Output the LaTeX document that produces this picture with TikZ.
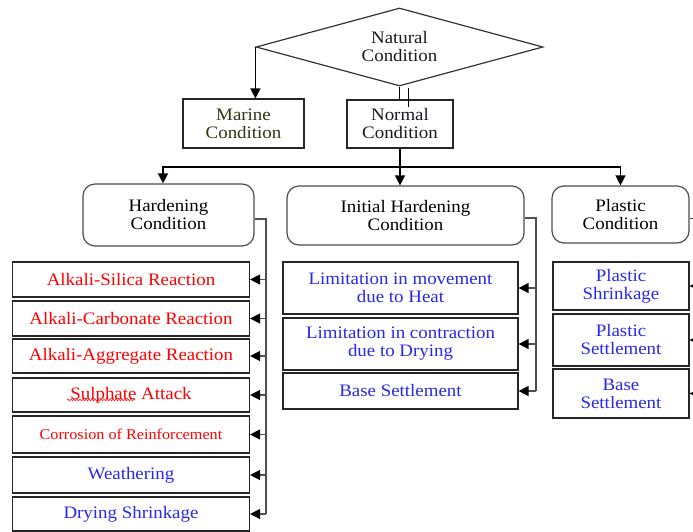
\documentclass[tikz,border=0pt]{standalone}
\usepackage{fontspec}
\setmainfont[FakeStretch=1.08]{Liberation Serif}
\usetikzlibrary{shapes.geometric,arrows.meta,decorations.pathmorphing}
\definecolor{redT}{RGB}{255,0,0}
\definecolor{blueT}{RGB}{40,40,235}
\definecolor{oliveT}{RGB}{45,55,20}
\definecolor{darkT}{RGB}{25,25,35}
\definecolor{conn}{RGB}{80,80,80}
\begin{document}
\begin{tikzpicture}[x=1pt,y=-1pt,
 every node/.style={font=\fontsize{17.5}{18}\selectfont, align=center, inner sep=0pt},
 box/.style={draw=black!85, line width=1.2pt, rectangle},
 rbox/.style={draw=black!70, line width=1.2pt, rectangle, rounded corners=12pt},
 lbox/.style={box, minimum width=237pt},
 mbox/.style={box, minimum width=235pt},
 pbox/.style={box, minimum width=136pt},
 arr/.style={draw=conn, line width=1.4pt, -{Triangle[length=10pt,width=10pt,color=black]}},
 ln/.style={draw=conn, line width=1.4pt},
]
\path[use as bounding box] (0,0) rectangle (693,531);
\clip (0,0) rectangle (693,531);

% top
\node[diamond, draw=black!80, line width=1.2pt, minimum width=287pt, minimum height=78pt, aspect=3.68, text=darkT] (nat) at (399.5,47) {Natural\\Condition};
\node[box, minimum width=121pt, minimum height=49pt, text=oliveT] (marine) at (243.5,123.5) {Marine\\Condition};
\node[box, minimum width=106pt, minimum height=48pt, text=darkT] (normal) at (400,124) {Normal\\Condition};

% conditions
\node[rbox, minimum width=171pt, minimum height=62pt] (hard) at (168.5,215) {Hardening\\Condition};
\node[rbox, minimum width=237pt, minimum height=59pt] (init) at (405.5,215.5) {Initial Hardening\\Condition};
\node[rbox, minimum width=137pt, minimum height=57pt] (plast) at (620.5,214.5) {Plastic\\Condition};

% hardening children
\node[lbox, minimum height=35pt, text=redT] (sil) at (131,279.5) {Alkali-Silica Reaction};
\node[lbox, minimum height=35pt, text=redT] (carb) at (131,318.5) {Alkali-Carbonate Reaction};
\node[lbox, minimum height=34pt, text=redT] (aggr) at (131,356) {Alkali-Aggregate Reaction};
\node[lbox, minimum height=34pt, text=redT] (sul) at (131,395) {Sulphate Attack};
\node[lbox, minimum height=37pt, text=redT, font=\fontsize{15}{16}\selectfont] (corr) at (131,434.5) {Corrosion of Reinforcement};
\node[lbox, minimum height=36pt, text=blueT] (wea) at (131,475) {Weathering};
\node[lbox, minimum height=34pt, text=blueT] (dry) at (131,514) {Drying Shrinkage};

% initial hardening children
\node[mbox, minimum height=52pt, text=blueT] (lm) at (400.5,288) {Limitation in movement\\due to Heat};
\node[mbox, minimum height=52pt, text=blueT] (lc) at (400.5,344) {Limitation in contraction\\due to Drying};
\node[mbox, minimum height=36pt, text=blueT] (bs) at (400.5,391) {Base Settlement};

% plastic children
\node[pbox, minimum height=48pt, text=blueT] (ps) at (621,286) {Plastic\\Shrinkage};
\node[pbox, minimum height=52pt, text=blueT] (pst) at (621,340) {Plastic\\Settlement};
\node[pbox, minimum height=49pt, text=blueT] (pbs) at (621,393.5) {Base\\Settlement};

% spell-check underline
\draw[redT, line width=0.5pt, decorate, decoration={snake, amplitude=0.9pt, segment length=3pt}] (67,400) -- (135,400);

% connectors top
\draw[arr, draw=black] (nat.west) -- (nat.west |- marine.north);
\draw[line width=1.2pt] (nat.south) -- (nat.south |- normal.north);
\draw[line width=1.2pt] ([xshift=9pt,yshift=-1pt]nat.south) -- ++(0,19);
\coordinate (j) at (400,167);
\draw[ln, draw=black] (normal.south) -- (j);
\draw[arr, draw=black] (j) -| ([xshift=-5.5pt]hard.north);
\draw[arr, draw=black] (j) -- (j |- init.north);
\draw[arr, draw=black] (j) -| (plast.north);

% buses
\coordinate (hbus) at (266,0);
\coordinate (ibus) at (536,0);
\coordinate (pbus) at (703,0);
\draw[ln] ([yshift=-4pt]hard.east) -| (hbus |- dry.east);
\foreach \n in {sil,carb,aggr,sul,corr,wea,dry} \draw[arr] (hbus |- \n.east) -- (\n.east);
\draw[ln] ([yshift=-2.5pt]init.east) -| (ibus |- bs.east);
\foreach \n in {lm,lc,bs} \draw[arr] (ibus |- \n.east) -- (\n.east);
\draw[ln] ([yshift=-4pt]plast.east) -| (pbus |- pbs.east);
\foreach \n in {ps,pst,pbs} \draw[arr] (pbus |- \n.east) -- (\n.east);
\end{tikzpicture}
\end{document}
